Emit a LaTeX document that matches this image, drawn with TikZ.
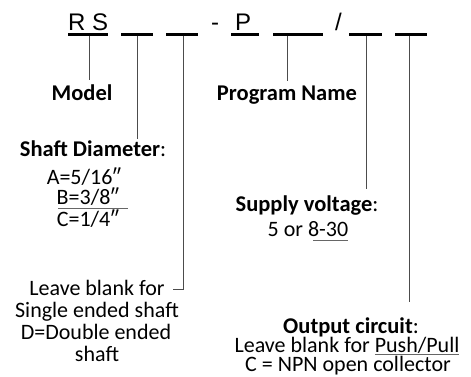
\documentclass[tikz,border=0pt]{standalone}
\usepackage{fontspec}
\setmainfont{Carlito}
\newfontfamily\arialf{Liberation Sans}
\begin{document}
\begin{tikzpicture}[x=1pt,y=-1pt,
  code/.style={font=\arialf\fontsize{24}{26}\selectfont, anchor=base west, inner sep=0pt},
  head/.style={font=\fontsize{22.5}{25}\selectfont, anchor=base, inner sep=0pt},
  body/.style={font=\fontsize{22}{24}\selectfont, anchor=base, inner sep=0pt},
  blankline/.style={line width=3pt},
  conn/.style={line width=0.8pt, draw=black!70},
  uline/.style={line width=0.8pt, draw=black!60},
]
\useasboundingbox (0,0) rectangle (471,377);
% top code
\node[code] (rs) at (68,31) {R S};
\node[code] (dash) at (211,31) {-};
\node[code] (p) at (235,31) {P};
\node[code] (slash) at (335,31) {/};
% blanks
\coordinate (b0l) at (68,35);  \coordinate (b0r) at (108,35);
\coordinate (b1l) at (121,35); \coordinate (b1r) at (153,35);
\coordinate (b2l) at (166,35); \coordinate (b2r) at (198,35);
\coordinate (b3l) at (231,35); \coordinate (b3r) at (259,35);
\coordinate (b4l) at (273,35); \coordinate (b4r) at (323,35);
\coordinate (b5l) at (349,35); \coordinate (b5r) at (382,35);
\coordinate (b6l) at (395,35); \coordinate (b6r) at (427,35);
\foreach \i in {0,...,6} {\draw[blankline] (b\i l) -- (b\i r);}
\coordinate (b0) at (89,36);
\coordinate (b1) at (137,36);
\coordinate (b2) at (183,36);
\coordinate (b4) at (287,36);
\coordinate (b5) at (366,36);
\coordinate (b6) at (409,36);
% labels
\node[head] (model) at (82,101) {\textbf{Model}};
\node[head] (prog) at (287,101) {\textbf{Program Name}};
\node[head] (shaft) at (93,157) {\textbf{Shaft Diameter}:};
\node[body] (sa) at (84,184) {A=5/16″};
\node[body] (sb) at (88,204) {B=3/8″};
\node[body] (sc) at (88,226) {C=1/4″};
\draw[uline] (58,208.5) -- (128,208.5);
\node[head] (supply) at (307,211) {\textbf{Supply voltage}:};
\node[body] (volt) at (308,236) {5 or 8-30};
\draw[uline] (313,240) -- (348,240);
\node[body] (lb1) at (97,295) {Leave blank for};
\node[body] (lb2) at (97,317) {Single ended shaft};
\node[body] (lb3) at (96,339) {D=Double ended};
\node[body] (lb4) at (97,361) {shaft};
\node[head] (out) at (351,333) {\textbf{Output circuit}:};
\node[body] (out2) at (347,352) {Leave blank for \textcolor{black!60}{\underline{\textcolor{black}{Push/Pull}}}};
\node[body] (out3) at (348,371) {C = NPN open collector};
% connectors
\coordinate (b2end) at (183,289);
\coordinate (hook) at (173,289);
\draw[conn,shorten >=5pt] (b0) -- (b0 |- model.north);
\draw[conn,shorten >=2pt] (b1) -- (b1 |- shaft.north);
\draw[conn] (b2) -- (b2end) -- (hook);
\draw[conn,shorten >=5pt] (b4) -- (b4 |- prog.north);
\draw[conn,shorten >=6pt] (b5) -- (b5 |- supply.north);
\draw[conn,shorten >=15pt] (b6) -- (b6 |- out.north);
\end{tikzpicture}
\end{document}
